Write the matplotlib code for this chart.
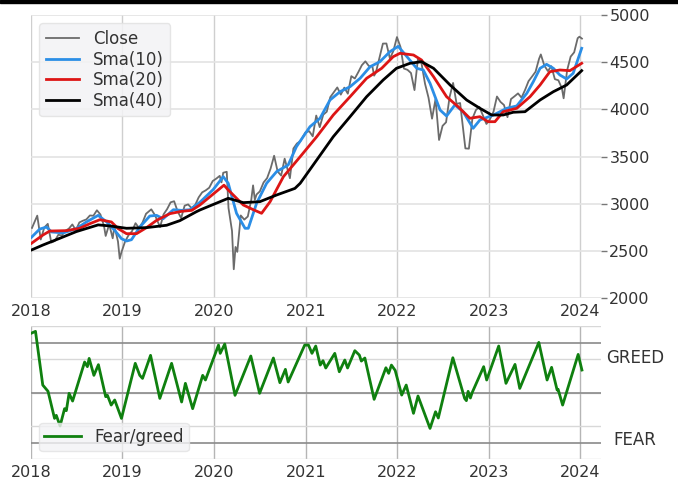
import matplotlib
matplotlib.use("Agg")
import matplotlib.pyplot as plt
import matplotlib.dates as mdates
from matplotlib.patches import Rectangle
import pandas as pd

# weekly closes
close_dates = [
    "2018-01-05", "2018-01-12", "2018-01-26", "2018-02-09", "2018-02-23", "2018-03-09", "2018-03-23",
    "2018-04-06", "2018-04-20", "2018-05-04", "2018-05-18", "2018-06-01", "2018-06-15", "2018-06-29",
    "2018-07-13", "2018-07-27", "2018-08-10", "2018-08-24", "2018-09-07", "2018-09-21", "2018-10-05",
    "2018-10-19", "2018-10-26", "2018-11-09", "2018-11-23", "2018-11-30", "2018-12-14", "2018-12-21",
    "2018-12-28", "2019-01-11", "2019-01-25", "2019-02-08", "2019-02-22", "2019-03-08", "2019-03-22",
    "2019-04-05", "2019-04-26", "2019-05-10", "2019-05-31", "2019-06-14", "2019-06-28", "2019-07-12",
    "2019-07-26", "2019-08-09", "2019-08-23", "2019-09-06", "2019-09-20", "2019-10-04", "2019-10-18",
    "2019-11-01", "2019-11-15", "2019-11-29", "2019-12-13", "2019-12-27", "2020-01-10", "2020-01-24",
    "2020-01-31", "2020-02-07", "2020-02-21", "2020-02-28", "2020-03-13", "2020-03-20", "2020-03-27",
    "2020-04-03", "2020-04-17", "2020-05-01", "2020-05-15", "2020-05-29", "2020-06-05", "2020-06-12",
    "2020-06-19", "2020-07-02", "2020-07-17", "2020-07-31", "2020-08-14", "2020-08-28", "2020-09-11",
    "2020-09-25", "2020-10-09", "2020-10-30", "2020-11-13", "2020-11-27", "2020-12-11", "2020-12-31",
    "2021-01-15", "2021-01-29", "2021-02-12", "2021-02-26", "2021-03-12", "2021-03-26", "2021-04-09",
    "2021-04-23", "2021-05-07", "2021-05-21", "2021-06-04", "2021-06-18", "2021-07-02", "2021-07-16",
    "2021-07-30", "2021-08-13", "2021-08-27", "2021-09-10", "2021-09-24", "2021-10-01", "2021-10-08",
    "2021-10-22", "2021-11-05", "2021-11-19", "2021-12-03", "2021-12-17", "2021-12-31", "2022-01-14",
    "2022-01-28", "2022-02-11", "2022-02-25", "2022-03-11", "2022-03-25", "2022-04-08", "2022-04-22",
    "2022-05-06", "2022-05-20", "2022-06-03", "2022-06-17", "2022-07-01", "2022-07-15", "2022-07-29",
    "2022-08-12", "2022-08-26", "2022-09-09", "2022-09-30", "2022-10-14", "2022-10-28", "2022-11-11",
    "2022-11-25", "2022-12-09", "2022-12-23", "2023-01-06", "2023-01-20", "2023-02-03", "2023-02-17",
    "2023-03-03", "2023-03-17", "2023-03-31", "2023-04-14", "2023-04-28", "2023-05-12", "2023-05-26",
    "2023-06-09", "2023-06-23", "2023-07-07", "2023-07-21", "2023-07-28", "2023-08-11", "2023-08-25",
    "2023-09-08", "2023-09-22", "2023-10-06", "2023-10-20", "2023-10-27", "2023-11-10", "2023-11-24",
    "2023-12-08", "2023-12-22", "2023-12-29", "2024-01-08",
]
close_values = [
    2743, 2786, 2873, 2620, 2747, 2786, 2588,
    2604, 2670, 2663, 2712, 2735, 2780, 2718,
    2801, 2819, 2833, 2875, 2872, 2930, 2885,
    2767, 2658, 2781, 2633, 2760, 2600, 2417,
    2486, 2596, 2665, 2708, 2793, 2743, 2800,
    2893, 2940, 2881, 2752, 2887, 2942, 3014,
    3026, 2919, 2847, 2979, 2992, 2952, 2986,
    3067, 3120, 3141, 3169, 3240, 3265, 3295,
    3226, 3328, 3338, 2954, 2711, 2305, 2541,
    2489, 2875, 2831, 2864, 3044, 3194, 3041,
    3098, 3130, 3225, 3271, 3373, 3508, 3341,
    3298, 3477, 3270, 3585, 3638, 3663, 3756,
    3768, 3714, 3934, 3811, 3943, 3975, 4129,
    4180, 4232, 4156, 4230, 4166, 4352, 4327,
    4395, 4468, 4509, 4459, 4455, 4357, 4391,
    4545, 4697, 4698, 4538, 4621, 4766, 4662,
    4432, 4419, 4385, 4204, 4543, 4488, 4272,
    4123, 3901, 4109, 3675, 3825, 3863, 4130,
    4280, 4058, 4067, 3586, 3583, 3901, 3993,
    4026, 3934, 3845, 3895, 3973, 4136, 4079,
    4046, 3917, 4109, 4138, 4169, 4124, 4205,
    4299, 4348, 4399, 4536, 4582, 4464, 4406,
    4457, 4320, 4308, 4224, 4117, 4415, 4559,
    4604, 4754, 4770, 4750,
]

sma10_dates = [
    "2018-01-03", "2018-02-05", "2018-03-04", "2018-03-24", "2018-05-10", "2018-07-01", "2018-08-10",
    "2018-09-26", "2018-10-30", "2018-12-01", "2018-12-28", "2019-01-17", "2019-02-06", "2019-03-11",
    "2019-04-20", "2019-05-17", "2019-06-12", "2019-07-23", "2019-08-25", "2019-09-27", "2019-11-06",
    "2019-12-29", "2020-02-07", "2020-02-27", "2020-03-31", "2020-05-04", "2020-05-17", "2020-06-19",
    "2020-07-29", "2020-09-07", "2020-10-23", "2020-11-25", "2021-01-18", "2021-02-27", "2021-04-08",
    "2021-05-18", "2021-06-27", "2021-08-06", "2021-09-15", "2021-10-24", "2021-12-03", "2022-01-05",
    "2022-02-09", "2022-03-20", "2022-04-15", "2022-05-12", "2022-06-21", "2022-07-17", "2022-08-19",
    "2022-09-21", "2022-10-31", "2022-11-27", "2023-01-20", "2023-03-14", "2023-04-23", "2023-06-02",
    "2023-06-28", "2023-07-25", "2023-08-20", "2023-09-16", "2023-10-12", "2023-11-08", "2023-12-04",
    "2024-01-07",
]
sma10_values = [
    2644, 2731, 2752, 2700, 2690, 2735, 2806,
    2876, 2806, 2717, 2629, 2604, 2618, 2752,
    2869, 2876, 2840, 2936, 2929, 2936, 3015,
    3150, 3286, 3216, 2898, 2739, 2739, 3004,
    3216, 3340, 3410, 3604, 3816, 3905, 4099,
    4187, 4240, 4329, 4452, 4505, 4611, 4668,
    4558, 4435, 4417, 4276, 3993, 3929, 4046,
    3975, 3799, 3887, 3940, 4011, 4036, 4170,
    4293, 4435, 4477, 4435, 4364, 4322, 4382,
    4647,
]

sma20_dates = [
    "2018-01-03", "2018-02-18", "2018-03-17", "2018-05-23", "2018-07-14", "2018-08-24", "2018-10-03",
    "2018-11-18", "2018-12-15", "2019-01-17", "2019-02-26", "2019-04-07", "2019-05-17", "2019-07-09",
    "2019-08-25", "2019-10-04", "2019-11-06", "2020-02-10", "2020-02-27", "2020-04-27", "2020-06-06",
    "2020-07-09", "2020-08-12", "2020-10-04", "2020-12-10", "2021-02-14", "2021-04-21", "2021-06-27",
    "2021-09-01", "2021-10-31", "2021-12-16", "2022-01-12", "2022-03-07", "2022-04-08", "2022-05-26",
    "2022-07-17", "2022-09-01", "2022-10-18", "2022-11-27", "2022-12-30", "2023-01-26", "2023-02-28",
    "2023-04-23", "2023-06-15", "2023-07-25", "2023-09-02", "2023-10-12", "2023-11-21", "2024-01-07",
]
sma20_values = [
    2580, 2668, 2710, 2714, 2739, 2788, 2830,
    2806, 2735, 2682, 2682, 2746, 2823, 2894,
    2919, 2929, 2986, 3196, 3145, 2986, 2936,
    2898, 3021, 3286, 3498, 3710, 3940, 4134,
    4329, 4435, 4558, 4594, 4576, 4523, 4346,
    4134, 4028, 3905, 3922, 3869, 3869, 3975,
    4011, 4134, 4258, 4399, 4417, 4410, 4488,
]

sma40_dates = [
    "2018-01-03", "2018-02-18", "2018-04-26", "2018-07-01", "2018-09-26", "2018-11-12", "2019-01-17",
    "2019-04-07", "2019-06-26", "2019-08-18", "2019-10-23", "2019-11-06", "2020-02-27", "2020-04-27",
    "2020-07-02", "2020-09-07", "2020-11-19", "2020-12-10", "2021-02-14", "2021-04-21", "2021-06-27",
    "2021-09-01", "2021-11-06", "2021-12-29", "2022-02-21", "2022-04-08", "2022-05-26", "2022-07-31",
    "2022-10-05", "2022-11-27", "2023-01-13", "2023-02-28", "2023-04-09", "2023-05-26", "2023-07-25",
    "2023-09-16", "2023-11-08", "2024-01-07",
]
sma40_values = [
    2509, 2562, 2633, 2704, 2775, 2764, 2739,
    2746, 2771, 2820, 2915, 2933, 3057, 3011,
    3021, 3092, 3162, 3216, 3463, 3710, 3922,
    4134, 4311, 4435, 4488, 4505, 4435, 4258,
    4099, 4011, 3940, 3940, 3969, 3975, 4099,
    4187, 4258, 4410,
]

# fear / greed index (0-100)
fg_dates = [
    "2018-01-01", "2018-01-19", "2018-02-17", "2018-03-10", "2018-04-05", "2018-04-12", "2018-04-27",
    "2018-05-15", "2018-05-22", "2018-06-02", "2018-06-16", "2018-08-03", "2018-08-14", "2018-08-21",
    "2018-09-09", "2018-09-27", "2018-10-26", "2018-11-02", "2018-11-17", "2018-12-01", "2018-12-28",
    "2019-02-21", "2019-03-11", "2019-03-22", "2019-04-23", "2019-05-30", "2019-07-16", "2019-08-25",
    "2019-09-09", "2019-10-08", "2019-11-17", "2019-11-28", "2020-01-19", "2020-01-26", "2020-02-13",
    "2020-03-25", "2020-05-27", "2020-07-01", "2020-08-25", "2020-09-20", "2020-10-12", "2020-10-23",
    "2020-12-28", "2021-01-12", "2021-01-26", "2021-02-10", "2021-02-28", "2021-03-11", "2021-03-22",
    "2021-04-27", "2021-05-15", "2021-06-06", "2021-06-17", "2021-07-16", "2021-08-03", "2021-08-11",
    "2021-08-25", "2021-10-01", "2021-11-17", "2021-11-28", "2021-12-09", "2021-12-24", "2022-01-19",
    "2022-02-06", "2022-03-07", "2022-03-25", "2022-05-12", "2022-06-03", "2022-06-14", "2022-08-11",
    "2022-09-27", "2022-10-04", "2022-10-11", "2022-10-20", "2022-10-27", "2022-12-12", "2022-12-24",
    "2023-02-10", "2023-03-11", "2023-04-16", "2023-05-05", "2023-07-20", "2023-08-22", "2023-09-09",
    "2023-10-01", "2023-10-05", "2023-10-23", "2023-12-24", "2024-01-08",
]
fg_values = [
    94.5, 96, 55.7, 51, 30.7, 33, 25,
    38, 36.5, 49.5, 43.7, 73, 69.5, 75.7,
    63, 71, 47, 48, 40.7, 44.5, 30.7,
    72, 63, 60.7, 78, 45.7, 72, 43,
    57, 38, 63, 59.5, 85.7, 79.5, 86.5,
    48, 77.5, 49.5, 76, 57.5, 67.5, 58,
    85.7, 85.7, 79.5, 85, 70.7, 74, 68.5,
    79.5, 65.7, 74.5, 68.5, 81.5, 78.2, 73.7,
    76, 45, 68.7, 64.5, 70.7, 66.7, 48.2,
    55.7, 34.5, 47.5, 23.2, 35.7, 31, 76.2,
    45.7, 44, 51, 46, 50, 69.5, 59.5,
    85, 57, 71.2, 53.2, 87.7, 59.5, 69,
    52, 52.5, 40.7, 78.7, 67,
]

price_ticks = [2000, 2500, 3000, 3500, 4000, 4500, 5000]
fg_grid = [0, 25, 50, 75, 100]
fg_levels = [12.5, 50, 87.5]


def plot_market_chart():
    fig = plt.figure(figsize=(6.78, 4.84), dpi=100)
    ax1 = fig.add_axes([0.0457, 0.3843, 0.8407, 0.5847])
    ax2 = fig.add_axes([0.0457, 0.0510, 0.8407, 0.2754])
    x_range = (pd.Timestamp("2018-01-01"), pd.Timestamp("2024-03-24"))

    # price panel
    ax1.plot(pd.to_datetime(close_dates), close_values, color='#6b6b6b', lw=1.3, label='Close')
    ax1.plot(pd.to_datetime(sma10_dates), sma10_values, color='#2b8ee6', lw=2.0, label='Sma(10)')
    ax1.plot(pd.to_datetime(sma20_dates), sma20_values, color='#dd1515', lw=2.0, label='Sma(20)')
    ax1.plot(pd.to_datetime(sma40_dates), sma40_values, color='black', lw=2.0, label='Sma(40)')
    ax1.set_ylim(2000, 5000)
    ax1.set_yticks(price_ticks)
    ax1.yaxis.tick_right()
    leg1 = ax1.legend(loc='upper left', fontsize=12, labelspacing=0.15, handlelength=2.0,
                      facecolor='#f3f3f5', edgecolor='#e2e2e2', framealpha=0.85, borderpad=0.4)

    # fear / greed panel
    ax2.plot(pd.to_datetime(fg_dates), fg_values, color='#0f800f', lw=2.0, label='Fear/greed')
    for lvl in fg_levels:
        ax2.axhline(lvl, color='#8a8a8a', lw=1.2, zorder=1)
    ax2.set_ylim(0, 100)
    ax2.set_yticks(fg_grid)
    ax2.set_yticklabels([])
    label_tf = ax2.get_yaxis_transform()
    ax2.text(1.06, 75.8, 'GREED', transform=label_tf, ha='center', va='center', fontsize=12, color='#333333')
    ax2.text(1.06, 14.5, 'FEAR', transform=label_tf, ha='center', va='center', fontsize=12, color='#333333')
    leg2 = ax2.legend(loc='lower left', fontsize=12, handlelength=2.2, borderpad=0.3,
                      facecolor='#f3f3f5', edgecolor='#e2e2e2', framealpha=0.8)

    for leg in (leg1, leg2):
        for txt in leg.get_texts():
            txt.set_color('#333333')

    for ax in (ax1, ax2):
        ax.set_xlim(*x_range)
        ax.xaxis.set_major_locator(mdates.YearLocator())
        ax.xaxis.set_major_formatter(mdates.DateFormatter('%Y'))
        ax.tick_params(axis='x', length=0, labelsize=11.5, labelcolor='#333333', pad=4)
        ax.tick_params(axis='y', labelsize=11.5, labelcolor='#333333', color='#777777',
                       length=4, width=1, pad=2)
        for side in ax.spines:
            ax.spines[side].set_visible(False)
        ax.set_axisbelow(True)
    # no tick marks on the fear/greed scale
    ax2.tick_params(axis='y', length=0)

    ax1.grid(True, axis='x', color='#cfcfcf', lw=1.0)
    ax1.grid(True, axis='y', color='#e3e3e3', lw=1.2)
    ax2.grid(True, axis='x', color='#b5b5b5', lw=1.0)
    ax2.grid(True, axis='y', color='#d8d8d8', lw=1.0)

    # black strip along the top edge
    fig.patches.append(Rectangle((0, 1 - 3 / 484), 1, 3 / 484, transform=fig.transFigure,
                                 color='black', zorder=10))

    plt.savefig("out.png", dpi=100)
    plt.close(fig)


plot_market_chart()
